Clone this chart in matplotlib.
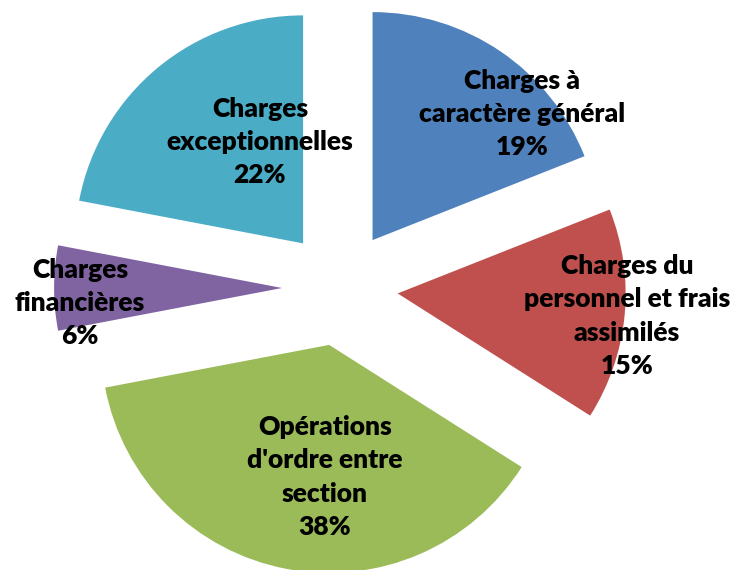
import matplotlib
matplotlib.use("Agg")
import matplotlib.pyplot as plt

categories = [
    "Charges à\ncaractère général",
    "Charges du\npersonnel et frais\nassimilés",
    "Opérations\nd'ordre entre\nsection",
    "Charges\nfinancières",
    "Charges\nexceptionnelles",
]
values = [19, 15, 38, 6, 22]
colors = ["#4F81BD", "#C0504D", "#9BBB59", "#8064A2", "#4BACC6"]

W, H = 737, 570
R = 228.0          # pie radius in pixels
CX, CY = 340, 288  # pie center in pixels (from top-left)

fig = plt.figure(figsize=(W / 100, H / 100), dpi=100)
ax = fig.add_axes([0, 0, 1, 1])

wedges, _ = ax.pie(values, colors=colors, startangle=90, counterclock=False,
                   explode=[0.254] * len(values), radius=1.0, center=(0, 0),
                   frame=True)
ax.set_xlim(-CX / R, (W - CX) / R)
ax.set_ylim(-(H - CY) / R, CY / R)
ax.set_aspect("auto")
ax.axis("off")

# label centers in pixels (from top-left)
label_px = [(522, 114), (627, 316), (325, 477), (80, 303), (260, 142)]
for cat, v, (px, py) in zip(categories, values, label_px):
    ax.text((px - CX) / R, (CY - py) / R, f"{cat}\n{v}%", ha="center", va="center",
            fontsize=19, fontweight="heavy", family=["Lato", "DejaVu Sans"],
            linespacing=1.47, color="black")

fig.savefig("out.png", dpi=100)
